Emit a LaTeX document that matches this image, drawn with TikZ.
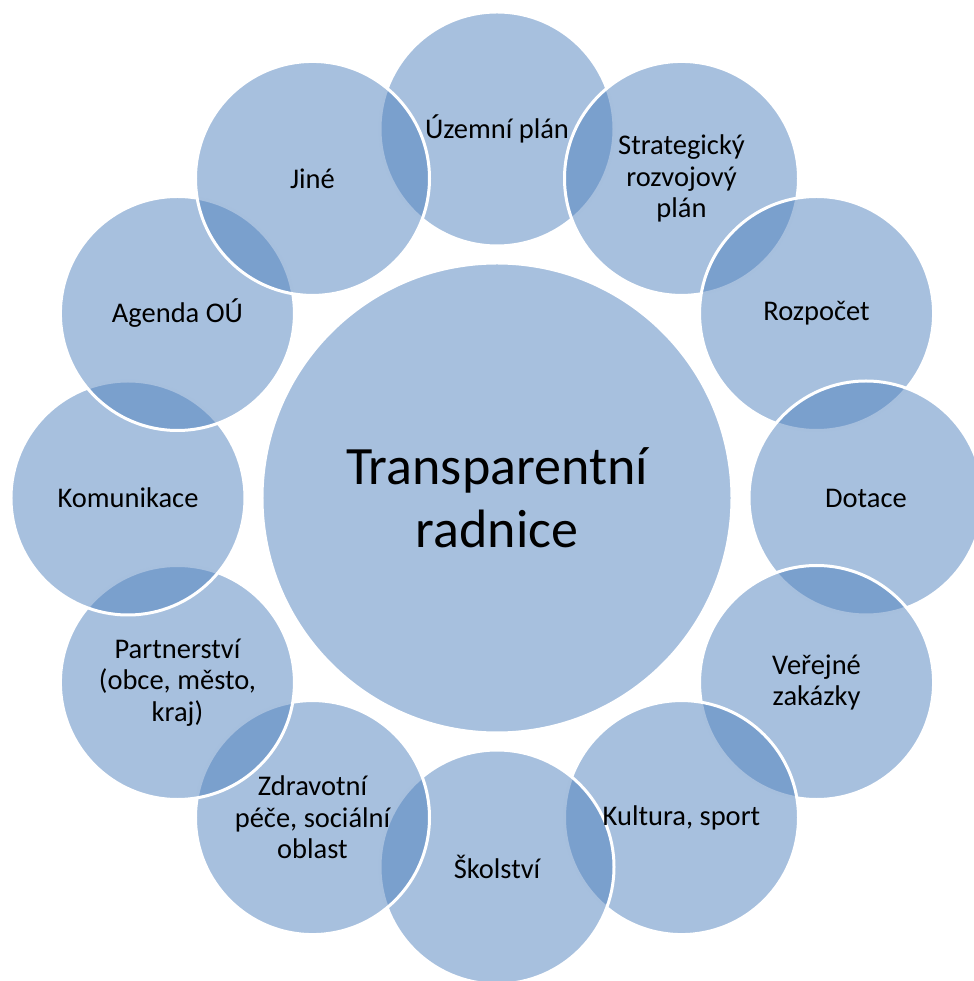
\documentclass[tikz,border=0pt]{standalone}
\usepackage{fontspec}
\setmainfont{Carlito}
\definecolor{bubbleblue}{HTML}{4F81BD}
\begin{document}
\begin{tikzpicture}[x=1pt,y=1pt,
  bubble/.style={circle, minimum size=234pt, inner sep=0pt, fill=bubbleblue, fill opacity=0.5, draw=white, draw opacity=1, line width=3pt},
  hub/.style={circle, minimum size=470pt, inner sep=0pt, fill=bubbleblue, fill opacity=0.5, draw=white, draw opacity=1, line width=3pt},
  lbl/.style={align=center, inner sep=0pt, text=black, font=\fontsize{28.5}{31.5}\selectfont},
  hublbl/.style={align=center, inner sep=0pt, text=black, font=\fontsize{54}{63}\selectfont}
]
\useasboundingbox (-497,-483) rectangle (476,498);
\node[hub] (hub) at (0,0) {};
\foreach \i/\a in {1/90,2/60,3/30,4/0,5/-30,6/-60,7/-90,8/-120,9/-150,10/180,11/150,12/120}
  \node[bubble] (c\i) at (\a:369) {};
\node[hublbl] (thub) at (hub) {Transparentní\\radnice};
\node[lbl] (t1) at (c1) {Územní plán};
\node[lbl] (t2) at (c2) {Strategický\\rozvojový\\plán};
\node[lbl] (t3) at (c3) {Rozpočet};
\node[lbl] (t4) at (c4) {Dotace};
\node[lbl] (t5) at (c5) {Veřejné\\zakázky};
\node[lbl] (t6) at (c6) {Kultura, sport};
\node[lbl] (t7) at (c7) {Školství};
\node[lbl] (t8) at (c8) {Zdravotní\\péče, sociální\\oblast};
\node[lbl] (t9) at (c9) {Partnerství\\(obce, město,\\kraj)};
\node[lbl] (t10) at (c10) {Komunikace};
\node[lbl] (t11) at (c11) {Agenda OÚ};
\node[lbl] (t12) at (c12) {Jiné};
\end{tikzpicture}
\end{document}
